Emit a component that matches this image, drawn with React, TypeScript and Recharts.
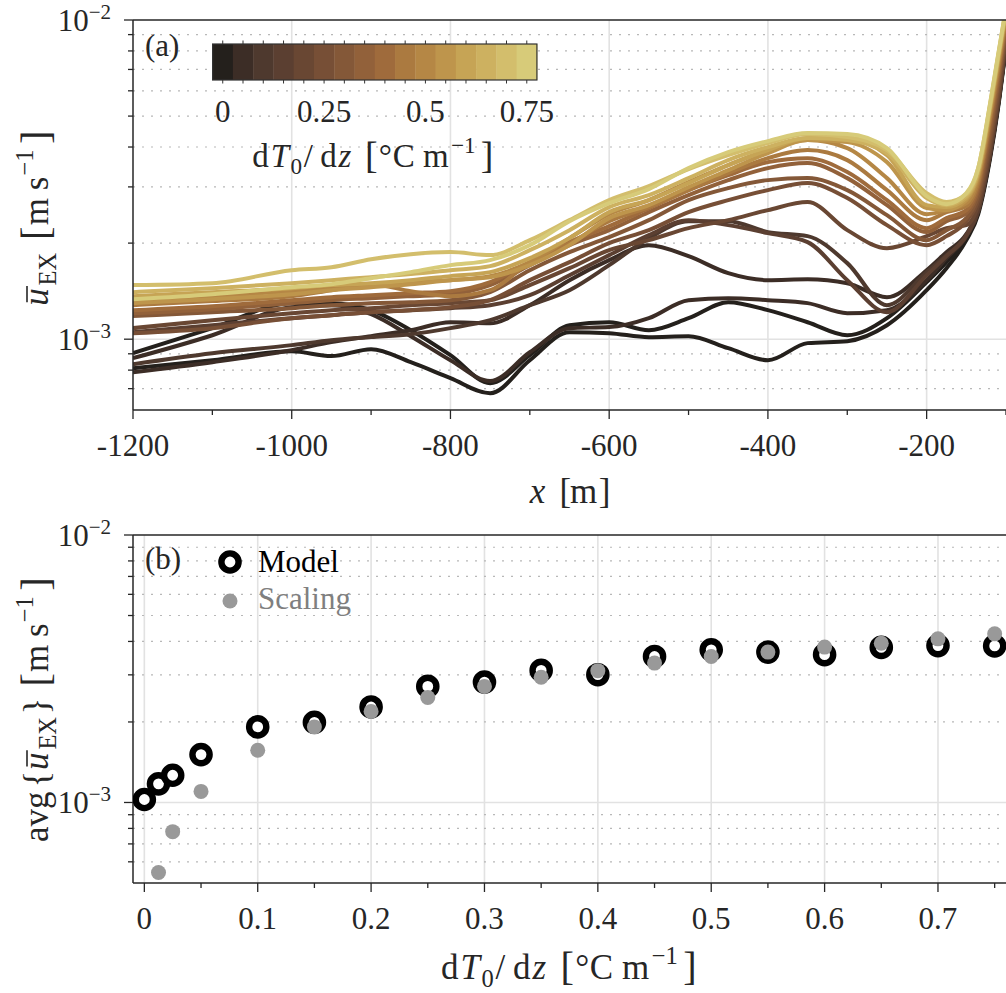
import React from 'react';
import { LineChart, Line, XAxis, YAxis, CartesianGrid, ScatterChart, Scatter } from 'recharts';

// ---------------- data ----------------
const xPositions = [-1200, -1100, -1000, -950, -900, -850, -800, -750, -700, -650, -600, -550, -500, -450, -400, -350, -300, -250, -200, -175, -150, -135, -120, -110, -100];

const gradients = [0, 0.0125, 0.025, 0.05, 0.1, 0.15, 0.2, 0.25, 0.3, 0.35, 0.4, 0.45, 0.5, 0.55, 0.6, 0.65, 0.7, 0.75];

const u_000 = [0.811e-3, 0.859e-3, 0.917e-3, 0.885e-3, 0.930e-3, 0.847e-3, 0.755e-3, 0.677e-3, 0.859e-3, 1.052e-3, 1.044e-3, 1.015e-3, 1.022e-3, 0.937e-3, 0.859e-3, 0.972e-3, 0.986e-3, 1.106e-3, 1.424e-3, 1.669e-3, 2.043e-3, 2.465e-3, 3.692e-3, 5.297e-3, 8.287e-3];
const u_0125 = [0.904e-3, 1.083e-3, 1.297e-3, 1.297e-3, 1.233e-3, 1.067e-3, 0.891e-3, 0.728e-3, 0.891e-3, 1.106e-3, 1.130e-3, 1.067e-3, 1.164e-3, 1.306e-3, 1.233e-3, 1.130e-3, 1.029e-3, 1.164e-3, 1.509e-3, 1.743e-3, 2.073e-3, 2.501e-3, 3.746e-3, 5.374e-3, 8.347e-3];
const u_025 = [0.872e-3, 1.029e-3, 1.260e-3, 1.278e-3, 1.198e-3, 1.022e-3, 0.859e-3, 0.739e-3, 0.910e-3, 1.083e-3, 1.091e-3, 1.164e-3, 1.325e-3, 1.344e-3, 1.325e-3, 1.297e-3, 1.206e-3, 1.233e-3, 1.531e-3, 1.794e-3, 2.103e-3, 2.519e-3, 3.773e-3, 5.413e-3, 8.407e-3];
const u_050 = [0.788e-3, 0.847e-3, 0.924e-3, 0.979e-3, 1.022e-3, 1.067e-3, 1.130e-3, 1.122e-3, 1.278e-3, 1.531e-3, 1.769e-3, 1.971e-3, 1.820e-3, 1.610e-3, 1.531e-3, 1.542e-3, 1.498e-3, 1.354e-3, 1.645e-3, 1.874e-3, 2.134e-3, 2.537e-3, 3.801e-3, 5.452e-3, 8.468e-3];
const u_100 = [0.835e-3, 0.904e-3, 0.958e-3, 0.993e-3, 1.015e-3, 1.037e-3, 1.083e-3, 1.147e-3, 1.278e-3, 1.424e-3, 1.706e-3, 2.073e-3, 2.343e-3, 2.343e-3, 2.165e-3, 2.103e-3, 1.731e-3, 1.278e-3, 1.622e-3, 1.834e-3, 2.103e-3, 2.519e-3, 3.801e-3, 5.452e-3, 8.468e-3];
const u_150 = [1.052e-3, 1.106e-3, 1.164e-3, 1.189e-3, 1.215e-3, 1.233e-3, 1.251e-3, 1.278e-3, 1.374e-3, 1.587e-3, 1.834e-3, 2.118e-3, 2.360e-3, 2.277e-3, 2.149e-3, 2.014e-3, 1.531e-3, 1.215e-3, 1.587e-3, 1.820e-3, 2.118e-3, 2.537e-3, 3.828e-3, 5.492e-3, 8.529e-3];
const u_200 = [1.083e-3, 1.147e-3, 1.206e-3, 1.233e-3, 1.251e-3, 1.278e-3, 1.297e-3, 1.325e-3, 1.477e-3, 1.669e-3, 1.901e-3, 2.043e-3, 2.228e-3, 2.360e-3, 2.537e-3, 2.688e-3, 2.196e-3, 1.928e-3, 2.103e-3, 2.228e-3, 2.277e-3, 2.630e-3, 3.969e-3, 5.694e-3, 8.779e-3];
const u_250 = [1.044e-3, 1.083e-3, 1.164e-3, 1.189e-3, 1.215e-3, 1.233e-3, 1.260e-3, 1.325e-3, 1.531e-3, 1.743e-3, 1.999e-3, 2.196e-3, 2.501e-3, 2.727e-3, 2.931e-3, 3.083e-3, 2.767e-3, 2.277e-3, 1.971e-3, 2.103e-3, 2.343e-3, 2.727e-3, 4.144e-3, 5.945e-3, 9.036e-3];
const u_300 = [1.181e-3, 1.215e-3, 1.251e-3, 1.278e-3, 1.297e-3, 1.306e-3, 1.325e-3, 1.404e-3, 1.645e-3, 1.874e-3, 2.088e-3, 2.360e-3, 2.727e-3, 2.974e-3, 3.150e-3, 3.196e-3, 2.931e-3, 2.447e-3, 2.043e-3, 2.196e-3, 2.395e-3, 2.827e-3, 4.359e-3, 6.254e-3, 9.301e-3];
const u_350 = [1.206e-3, 1.242e-3, 1.297e-3, 1.325e-3, 1.344e-3, 1.364e-3, 1.384e-3, 1.477e-3, 1.706e-3, 1.971e-3, 2.196e-3, 2.501e-3, 2.827e-3, 3.150e-3, 3.435e-3, 3.562e-3, 3.196e-3, 2.630e-3, 2.165e-3, 2.343e-3, 2.483e-3, 2.931e-3, 4.585e-3, 6.483e-3, 9.642e-3];
const u_400 = [1.233e-3, 1.269e-3, 1.325e-3, 1.354e-3, 1.374e-3, 1.394e-3, 1.414e-3, 1.509e-3, 1.743e-3, 2.014e-3, 2.260e-3, 2.574e-3, 2.931e-3, 3.266e-3, 3.587e-3, 3.692e-3, 3.338e-3, 2.727e-3, 2.228e-3, 2.395e-3, 2.537e-3, 3.017e-3, 4.788e-3, 6.722e-3, 9.853e-3];
const u_450 = [1.278e-3, 1.316e-3, 1.364e-3, 1.424e-3, 1.487e-3, 1.414e-3, 1.364e-3, 1.424e-3, 1.743e-3, 1.999e-3, 2.343e-3, 2.593e-3, 2.931e-3, 3.314e-3, 3.692e-3, 3.912e-3, 3.640e-3, 2.931e-3, 2.360e-3, 2.501e-3, 2.611e-3, 3.105e-3, 4.928e-3, 6.969e-3, 10.14e-3];
const u_500 = [1.325e-3, 1.364e-3, 1.414e-3, 1.445e-3, 1.477e-3, 1.509e-3, 1.531e-3, 1.576e-3, 1.743e-3, 2.073e-3, 2.465e-3, 2.727e-3, 3.105e-3, 3.511e-3, 3.912e-3, 4.205e-3, 3.969e-3, 3.196e-3, 2.465e-3, 2.537e-3, 2.668e-3, 3.196e-3, 5.073e-3, 7.173e-3, 10.36e-3];
const u_550 = [1.297e-3, 1.335e-3, 1.384e-3, 1.424e-3, 1.455e-3, 1.487e-3, 1.531e-3, 1.564e-3, 1.706e-3, 1.971e-3, 2.395e-3, 2.630e-3, 2.995e-3, 3.386e-3, 3.828e-3, 4.205e-3, 4.144e-3, 3.587e-3, 2.574e-3, 2.537e-3, 2.727e-3, 3.266e-3, 5.221e-3, 7.383e-3, 10.52e-3];
const u_600 = [1.364e-3, 1.404e-3, 1.445e-3, 1.477e-3, 1.498e-3, 1.531e-3, 1.576e-3, 1.622e-3, 1.794e-3, 2.073e-3, 2.501e-3, 2.727e-3, 3.083e-3, 3.511e-3, 3.912e-3, 4.266e-3, 4.235e-3, 3.773e-3, 2.630e-3, 2.593e-3, 2.767e-3, 3.314e-3, 5.297e-3, 7.490e-3, 10.67e-3];
const u_650 = [1.404e-3, 1.445e-3, 1.498e-3, 1.531e-3, 1.564e-3, 1.599e-3, 1.645e-3, 1.694e-3, 1.901e-3, 2.196e-3, 2.593e-3, 2.827e-3, 3.196e-3, 3.640e-3, 3.998e-3, 4.266e-3, 4.205e-3, 3.828e-3, 2.767e-3, 2.630e-3, 2.807e-3, 3.362e-3, 5.374e-3, 7.599e-3, 10.75e-3];
const u_700 = [1.477e-3, 1.498e-3, 1.645e-3, 1.681e-3, 1.781e-3, 1.847e-3, 1.874e-3, 1.834e-3, 2.043e-3, 2.360e-3, 2.727e-3, 3.017e-3, 3.411e-3, 3.773e-3, 4.115e-3, 4.391e-3, 4.297e-3, 3.912e-3, 2.868e-3, 2.688e-3, 2.848e-3, 3.435e-3, 5.452e-3, 7.710e-3, 10.90e-3];
const u_750 = [1.335e-3, 1.384e-3, 1.455e-3, 1.487e-3, 1.553e-3, 1.622e-3, 1.706e-3, 1.769e-3, 1.971e-3, 2.343e-3, 2.668e-3, 2.952e-3, 3.435e-3, 3.856e-3, 4.175e-3, 4.423e-3, 4.391e-3, 3.969e-3, 2.807e-3, 2.649e-3, 2.868e-3, 3.435e-3, 5.492e-3, 7.765e-3, 10.90e-3];

const profiles = [u_000, u_0125, u_025, u_050, u_100, u_150, u_200, u_250, u_300, u_350, u_400, u_450, u_500, u_550, u_600, u_650, u_700, u_750];

// colour map: one colour per 0.05 bin of dT0/dz (0 ... 0.75)
const binStep = 0.05;
const binColors = ['#24201c', '#3c2d26', '#4e392e', '#5b3f31', '#694733', '#774f36', '#845838', '#92613a', '#9f6b3c', '#ab7a40', '#b58745', '#be954c', '#c6a455', '#cdb160', '#d3be6c', '#d7cb79'];
const colorbarTicks = [0, 0.25, 0.5, 0.75];

const modelGradients = [0, 0.0125, 0.025, 0.05, 0.1, 0.15, 0.2, 0.25, 0.3, 0.35, 0.4, 0.45, 0.5, 0.55, 0.6, 0.65, 0.7, 0.75];
const modelMean = [1.026e-3, 1.174e-3, 1.264e-3, 1.51e-3, 1.917e-3, 1.994e-3, 2.276e-3, 2.716e-3, 2.82e-3, 3.117e-3, 3.004e-3, 3.515e-3, 3.72e-3, 3.65e-3, 3.57e-3, 3.80e-3, 3.86e-3, 3.85e-3];
const scalingGradients = [0.0125, 0.025, 0.05, 0.1, 0.15, 0.2, 0.25, 0.3, 0.35, 0.4, 0.45, 0.5, 0.55, 0.6, 0.65, 0.7, 0.75];
const scalingMean = [0.547e-3, 0.778e-3, 1.10e-3, 1.567e-3, 1.917e-3, 2.19e-3, 2.47e-3, 2.716e-3, 2.94e-3, 3.11e-3, 3.32e-3, 3.515e-3, 3.65e-3, 3.81e-3, 3.94e-3, 4.09e-3, 4.27e-3];

// axes
const topXDomain = [-1200, -100];
const topXTicks = [-1200, -1100, -1000, -900, -800, -700, -600, -500, -400, -300, -200, -100];
const topXMajor = [-1200, -1000, -800, -600, -400, -200];
const topXGrid = [-1000, -800, -600, -400, -200];
const topYDomain = [6e-4, 1e-2];
const topYTicks = [7e-4, 8e-4, 9e-4, 1e-3, 2e-3, 3e-3, 4e-3, 5e-3, 6e-3, 7e-3, 8e-3, 9e-3, 1e-2];
const topYMinorGrid = [7e-4, 8e-4, 9e-4, 2e-3, 3e-3, 4e-3, 5e-3, 6e-3, 7e-3, 8e-3, 9e-3];

const botXDomain = [-0.01, 0.76];
const botXTicks = [0, 0.05, 0.1, 0.15, 0.2, 0.25, 0.3, 0.35, 0.4, 0.45, 0.5, 0.55, 0.6, 0.65, 0.7, 0.75];
const botXMajor = [0, 0.1, 0.2, 0.3, 0.4, 0.5, 0.6, 0.7];
const botYDomain = [5e-4, 1e-2];
const botYTicks = [6e-4, 7e-4, 8e-4, 9e-4, 1e-3, 2e-3, 3e-3, 4e-3, 5e-3, 6e-3, 7e-3, 8e-3, 9e-3, 1e-2];
const botYMinorGrid = [6e-4, 7e-4, 8e-4, 9e-4, 2e-3, 3e-3, 4e-3, 5e-3, 6e-3, 7e-3, 8e-3, 9e-3];

const yMajor = [1e-3, 1e-2];
const yMajorGrid = [1e-3];

// ---------------- styling ----------------
const FONT = '"Liberation Serif", "Times New Roman", serif';
const TXT = '#262626';
const AXIS = '#262626';
const MAJOR_GRID = '#e2e2e2';
const MINOR_GRID = '#b8b8b8';

const colorFor = (g: number) => binColors[Math.min(binColors.length - 1, Math.max(0, Math.round(g / binStep)))];

const isIn = (arr: number[], v: number) => arr.some((m) => Math.abs(m - v) <= 1e-6 * Math.max(Math.abs(m), 1e-9));

function applyScale(axis: any, v: number): number {
  const s = axis && axis.scale;
  if (!s) return NaN;
  if (typeof s === 'function') return s(v);
  if (typeof s.map === 'function') return s.map(v);
  return NaN;
}
const gen = (vals: number[], key: 'xAxis' | 'yAxis') => (args: any) =>
  vals.map((v) => applyScale(args[key], v)).filter((c) => Number.isFinite(c));

// ---------------- tick renderers ----------------
const BottomTick = (props: any) => {
  const { x, y, payload, majors } = props;
  const v = payload.value;
  const major = isIn(majors, v);
  return (
    <g>
      <line x1={x} x2={x} y1={y} y2={y + (major ? 9 : 5)} stroke={AXIS} strokeWidth={1.3} />
      {major && (
        <text x={x} y={y + 46} textAnchor="middle" fontFamily={FONT} fontSize={31} fill={TXT}>
          {String(v)}
        </text>
      )}
    </g>
  );
};

const TopTick = (props: any) => {
  const { x, y, payload, majors } = props;
  const major = isIn(majors, payload.value);
  return <line x1={x} x2={x} y1={y} y2={y - (major ? 9 : 5)} stroke={AXIS} strokeWidth={1.3} />;
};

const LeftTick = (props: any) => {
  const { x, y, payload } = props;
  const v = payload.value;
  const major = isIn(yMajor, v);
  const exp = Math.round(Math.log10(v));
  return (
    <g>
      <line x1={x} x2={x - (major ? 9 : 5)} y1={y} y2={y} stroke={AXIS} strokeWidth={1.3} />
      {major && (
        <text x={x - 22} y={y + 11} textAnchor="end" fontFamily={FONT} fontSize={31} fill={TXT}>
          10
          <tspan dy={-12} fontSize={21}>{'\u2212' + Math.abs(exp)}</tspan>
        </text>
      )}
    </g>
  );
};

// ---------------- math-like label ----------------
type Piece = { t: string; w: number; s?: number; dy?: number; it?: boolean; bar?: boolean };

function MathText({ pieces, x, y, size, rotate = 0, fill = TXT }: any) {
  const total = pieces.reduce((a: number, p: Piece) => a + p.w, 0) * size;
  let cx = -total / 2;
  const out: any[] = [];
  pieces.forEach((p: Piece, i: number) => {
    const fs = size * (p.s ?? 1);
    if (p.t)
      out.push(
        <text key={'t' + i} x={cx} y={(p.dy ?? 0) * size} fontFamily={FONT} fontSize={fs} fontStyle={p.it ? 'italic' : 'normal'} fill={fill}>
          {p.t}
        </text>
      );
    if (p.bar)
      out.push(<line key={'b' + i} x1={cx + 0.1 * size} x2={cx + 0.56 * size} y1={-0.6 * size} y2={-0.6 * size} stroke={fill} strokeWidth={1.6} />);
    cx += p.w * size;
  });
  return <g transform={`translate(${x} ${y}) rotate(${rotate})`}>{out}</g>;
}

const uexPieces: Piece[] = [
  { t: 'u', w: 0.58, it: true, bar: true },
  { t: 'EX', w: 1.0, s: 0.7, dy: 0.24 },
  { t: '', w: 0.3 },
  { t: '[', w: 0.42, s: 1.15, dy: 0.04 },
  { t: 'm', w: 1.0 },
  { t: 's', w: 0.42 },
  { t: '\u22121', w: 0.9, s: 0.7, dy: -0.42 },
  { t: ']', w: 0.42, s: 1.15, dy: 0.04 },
];
const avgPieces: Piece[] = [
  { t: 'avg', w: 1.56 },
  { t: '{', w: 0.5 },
  { t: 'u', w: 0.58, it: true, bar: true },
  { t: 'EX', w: 1.0, s: 0.7, dy: 0.24 },
  { t: '}', w: 0.5 },
  { t: '', w: 0.3 },
  { t: '[', w: 0.42, s: 1.15, dy: 0.04 },
  { t: 'm', w: 1.0 },
  { t: 's', w: 0.42 },
  { t: '\u22121', w: 0.9, s: 0.7, dy: -0.42 },
  { t: ']', w: 0.42, s: 1.15, dy: 0.04 },
];
const xPieces: Piece[] = [
  { t: 'x', w: 0.57, it: true },
  { t: '', w: 0.28 },
  { t: '[', w: 0.3 },
  { t: 'm', w: 0.82 },
  { t: ']', w: 0.3 },
];
const gradPieces: Piece[] = [
  { t: 'd', w: 0.556 },
  { t: 'T', w: 0.6, it: true },
  { t: '0', w: 0.4, s: 0.7, dy: 0.22 },
  { t: '/', w: 0.5 },
  { t: 'd', w: 0.556 },
  { t: 'z', w: 0.5, it: true },
  { t: '', w: 0.3 },
  { t: '[', w: 0.42, s: 1.15, dy: 0.04 },
  { t: '\u00b0', w: 0.42 },
  { t: 'C', w: 0.92 },
  { t: 'm', w: 0.85 },
  { t: '\u22121', w: 0.9, s: 0.7, dy: -0.42 },
  { t: ']', w: 0.42, s: 1.15, dy: 0.04 },
];

// ---------------- shapes ----------------
const ModelShape = (p: any) => <circle cx={p.cx} cy={p.cy} r={8.6} fill="#ffffff" stroke="#000000" strokeWidth={6.4} />;
const ScalingShape = (p: any) => <circle cx={p.cx} cy={p.cy} r={7.5} fill="#999999" stroke="none" />;

// ---------------- rows ----------------
const topRows = xPositions.map((x, i) => {
  const r: any = { x };
  profiles.forEach((p, k) => {
    r['s' + k] = p[i];
  });
  return r;
});
const modelRows = modelGradients.map((g, i) => ({ g, u: modelMean[i] }));
const scalingRows = scalingGradients.map((g, i) => ({ g, u: scalingMean[i] }));

const axisLine = { stroke: AXIS, strokeWidth: 1.5 };

export default function App() {
  // colorbar geometry
  const cbLeft = 212.6;
  const cbSeg = 20.27;
  const cbTop = 44;
  const cbH = 36;
  const cbPos = (v: number) => cbLeft + cbSeg / 2 + (v / binStep) * cbSeg;

  return (
    <div style={{ position: 'relative', width: 1006, height: 993, overflow: 'hidden', background: '#fff' }}>
      <style>{`html,body{margin:0;padding:0;overflow:hidden;background:#fff}`}</style>

      {/* ---------- panel (a) ---------- */}
      <div style={{ position: 'absolute', left: 0, top: 0 }}>
        <LineChart width={1006} height={520} data={topRows} margin={{ top: 0, right: 0, bottom: 0, left: 0 }}>
          <CartesianGrid
            xAxisId="x"
            yAxisId="y"
            stroke={MAJOR_GRID}
            strokeWidth={1.6}
            horizontalCoordinatesGenerator={gen(yMajorGrid, 'yAxis')}
            verticalCoordinatesGenerator={gen(topXGrid, 'xAxis')}
          />
          <CartesianGrid
            xAxisId="x"
            yAxisId="y"
            vertical={false}
            stroke={MINOR_GRID}
            strokeWidth={1.2}
            strokeDasharray="2 7"
            horizontalCoordinatesGenerator={gen(topYMinorGrid, 'yAxis')}
          />
          <XAxis
            xAxisId="x"
            dataKey="x"
            type="number"
            domain={topXDomain}
            allowDataOverflow
            ticks={topXTicks}
            interval={0}
            tickSize={0}
            tickMargin={0}
            tickLine={false}
            axisLine={axisLine}
            height={110}
            tick={(p: any) => <BottomTick {...p} majors={topXMajor} />}
          />
          <XAxis
            xAxisId="xt"
            orientation="top"
            type="number"
            domain={topXDomain}
            allowDataOverflow
            ticks={topXTicks}
            interval={0}
            tickSize={0}
            tickMargin={0}
            tickLine={false}
            axisLine={axisLine}
            height={20}
            tick={(p: any) => <TopTick {...p} majors={topXMajor} />}
          />
          <YAxis
            yAxisId="y"
            type="number"
            scale="log"
            domain={topYDomain}
            allowDataOverflow
            ticks={topYTicks}
            interval={0}
            width={133}
            tickSize={0}
            tickMargin={0}
            tickLine={false}
            axisLine={axisLine}
            tick={(p: any) => <LeftTick {...p} />}
          />
          {profiles.map((_, k) => (
            <Line
              key={k}
              xAxisId="x"
              yAxisId="y"
              type="monotone"
              dataKey={'s' + k}
              stroke={colorFor(gradients[k])}
              strokeWidth={4}
              strokeLinejoin="round"
              dot={false}
              activeDot={false}
              isAnimationActive={false}
            />
          ))}
        </LineChart>
      </div>

      {/* ---------- panel (b) ---------- */}
      <div style={{ position: 'absolute', left: 0, top: 515 }}>
        <ScatterChart width={1006} height={478} margin={{ top: 0, right: 0, bottom: 0, left: 0 }}>
          <CartesianGrid
            xAxisId="x"
            yAxisId="y"
            stroke={MAJOR_GRID}
            strokeWidth={1.6}
            horizontalCoordinatesGenerator={gen(yMajorGrid, 'yAxis')}
            verticalCoordinatesGenerator={gen(botXMajor, 'xAxis')}
          />
          <CartesianGrid
            xAxisId="x"
            yAxisId="y"
            vertical={false}
            stroke={MINOR_GRID}
            strokeWidth={1.2}
            strokeDasharray="2 7"
            horizontalCoordinatesGenerator={gen(botYMinorGrid, 'yAxis')}
          />
          <XAxis
            xAxisId="x"
            dataKey="g"
            type="number"
            domain={botXDomain}
            allowDataOverflow
            ticks={botXTicks}
            interval={0}
            tickSize={0}
            tickMargin={0}
            tickLine={false}
            axisLine={axisLine}
            height={110}
            tick={(p: any) => <BottomTick {...p} majors={botXMajor} />}
          />
          <XAxis
            xAxisId="xt"
            orientation="top"
            type="number"
            domain={botXDomain}
            allowDataOverflow
            ticks={botXTicks}
            interval={0}
            tickSize={0}
            tickMargin={0}
            tickLine={false}
            axisLine={axisLine}
            height={20}
            tick={(p: any) => <TopTick {...p} majors={botXMajor} />}
          />
          <YAxis
            yAxisId="y"
            dataKey="u"
            type="number"
            scale="log"
            domain={botYDomain}
            allowDataOverflow
            ticks={botYTicks}
            interval={0}
            width={133}
            tickSize={0}
            tickMargin={0}
            tickLine={false}
            axisLine={axisLine}
            tick={(p: any) => <LeftTick {...p} />}
          />
          <Scatter xAxisId="x" yAxisId="y" name="Model" data={modelRows} shape={ModelShape} isAnimationActive={false} />
          <Scatter xAxisId="x" yAxisId="y" name="Scaling" data={scalingRows} shape={ScalingShape} isAnimationActive={false} />
        </ScatterChart>
      </div>

      {/* ---------- annotations ---------- */}
      <svg width={1006} height={993} style={{ position: 'absolute', left: 0, top: 0, pointerEvents: 'none' }}>
        {/* panel labels */}
        <text x={145} y={56} fontFamily={FONT} fontSize={31} fill={TXT}>(a)</text>
        <text x={145} y={569} fontFamily={FONT} fontSize={31} fill={TXT}>(b)</text>

        {/* colorbar */}
        {binColors.map((c, i) => (
          <rect key={i} x={cbLeft + i * cbSeg} y={cbTop} width={cbSeg + 0.4} height={cbH} fill={c} />
        ))}
        <rect x={cbLeft} y={cbTop} width={cbSeg * binColors.length} height={cbH} fill="none" stroke="#333" strokeWidth={1.2} />
        {binColors.map((_, i) => {
          const cx = cbLeft + cbSeg / 2 + i * cbSeg;
          return (
            <g key={'cbt' + i}>
              <line x1={cx} x2={cx} y1={cbTop} y2={cbTop - 3.5} stroke="#333" strokeWidth={1} />
              <line x1={cx} x2={cx} y1={cbTop + cbH} y2={cbTop + cbH + 3.5} stroke="#333" strokeWidth={1} />
            </g>
          );
        })}
        {colorbarTicks.map((v) => (
          <text key={'cbl' + v} x={cbPos(v)} y={122} textAnchor="middle" fontFamily={FONT} fontSize={31} fill={TXT}>
            {String(v)}
          </text>
        ))}
        <MathText pieces={gradPieces} x={373.5} y={167} size={33} />

        {/* legend (b) */}
        <circle cx={230} cy={562} r={8.6} fill="#fff" stroke="#000" strokeWidth={6.4} />
        <text x={258} y={572} fontFamily={FONT} fontSize={31} fill="#000">Model</text>
        <circle cx={230} cy={601} r={7.5} fill="#999999" />
        <text x={258} y={609} fontFamily={FONT} fontSize={31} fill="#7f7f7f">Scaling</text>

        {/* axis titles */}
        <MathText pieces={uexPieces} x={48} y={217.5} size={35} rotate={-90} />
        <MathText pieces={xPieces} x={569.5} y={503} size={35} />
        <MathText pieces={avgPieces} x={48} y={709} size={35} rotate={-90} />
        <MathText pieces={gradPieces} x={569.5} y={979} size={35} />
      </svg>
    </div>
  );
}
